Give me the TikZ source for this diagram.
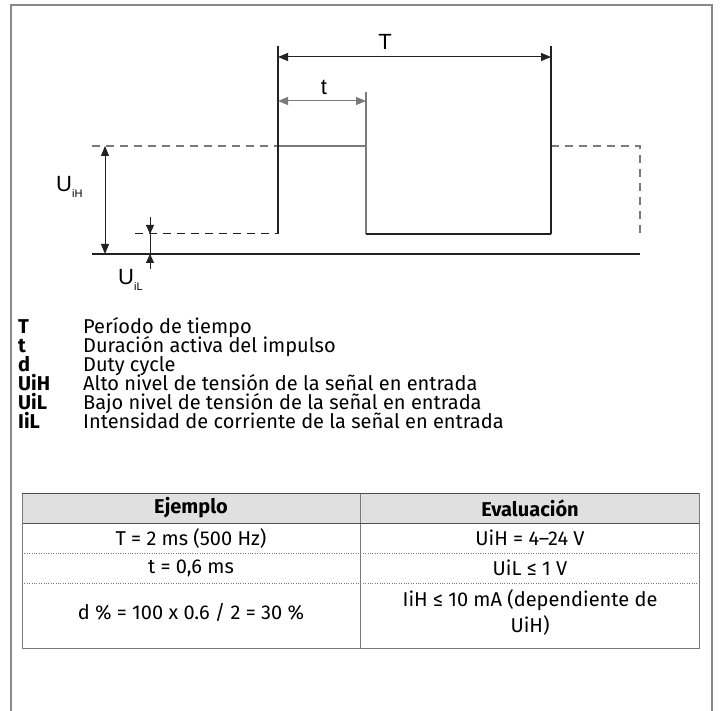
\documentclass[tikz,border=0pt]{standalone}
\usepackage{fontspec}
\setmainfont{Fira Sans}
\newfontfamily\diagfont{Liberation Sans}
\usetikzlibrary{arrows.meta}
\definecolor{frameC}{HTML}{888888}
\definecolor{lineK}{HTML}{222222}
\definecolor{lineG}{HTML}{7A7A7A}
\definecolor{headC}{HTML}{E0E0E0}
\tikzset{
  sig/.style={draw=lineK, line width=1.1pt},
  sigg/.style={draw=lineG, line width=1.1pt},
  dashg/.style={draw=lineG, line width=1.1pt, dash pattern=on 8pt off 6pt},
  dashk/.style={draw=lineK, line width=1pt, dash pattern=on 8pt off 6pt},
  dimarr/.style={line width=1pt, {Triangle[length=10pt,width=8pt]}-{Triangle[length=10pt,width=8pt]}},
  onearr/.style={line width=1pt, -{Triangle[length=9pt,width=8pt]}},
  lab/.style={font=\diagfont\fontsize{22}{24}\selectfont, inner sep=0pt},
  leg/.style={anchor=base west, inner sep=0pt, font=\fontsize{20}{22}\selectfont},
  legb/.style={anchor=base west, inner sep=0pt, font=\fontsize{20}{22}\selectfont\bfseries},
  cell/.style={inner sep=0pt, font=\fontsize{20}{26}\selectfont, align=center},
}
\begin{document}
\begin{tikzpicture}[x=1pt,y=-1pt]
\useasboundingbox (0,0) rectangle (720,711);
% frame
\coordinate (f1) at (11,711); \coordinate (f2) at (11,5);
\coordinate (f3) at (712,5); \coordinate (f4) at (712,711);
\draw[draw=frameC, line width=1.4pt] (f1) -- (f2) -- (f3) -- (f4);

% signal coordinates
\coordinate (LTop) at (278,46);
\coordinate (LHi) at (278,146);
\coordinate (LLo) at (278,234);
\coordinate (MTop) at (366,92);
\coordinate (MHi) at (366,146);
\coordinate (MLo) at (366,234);
\coordinate (RTop) at (551,46);
\coordinate (RHi) at (551,146);
\coordinate (RLo) at (551,234);
\coordinate (DHiL) at (92,146);
\coordinate (DLoL) at (135,234);
\coordinate (DHiR) at (640,146);
\coordinate (DLoR) at (640,234);
\coordinate (BL) at (92,254);
\coordinate (BR) at (640,254);

% dashed continuations
\draw[dashg] (DHiL) -- (LHi);
\draw[dashg] (RHi) -- (DHiR) -- (DLoR);
\draw[dashk] (DLoL) -- (LLo);
% pulse
\draw[sigg] (LHi) -- (MHi);
\draw[sigg] (MTop) -- (MLo);
\draw[sig] (LTop) -- (LLo);
\draw[sig] (MLo) -- (RLo);
\draw[sig] (RTop) -- (RLo);
% baseline
\draw[sig] (BL) -- (BR);

% T dimension
\coordinate (Ta) at (278,57); \coordinate (Tb) at (551,57);
\draw[dimarr, draw=lineK, fill=lineK] (Ta) -- (Tb);
\node[lab] (Tlab) at (385,42) {T};
% t dimension
\coordinate (ta) at (278,101); \coordinate (tb) at (366,101);
\draw[dimarr, draw=lineG, fill=lineK] (ta) -- (tb);
\node[lab] (tlab) at (324,87) {t};
% UiH
\coordinate (Ha) at (105,146); \coordinate (Hb) at (105,254);
\draw[dimarr, draw=lineK, fill=lineK] (Ha) -- (Hb);
\node[lab, anchor=base west] (UiH) at (56,192) {U\raisebox{-0.45ex}{\fontsize{11}{12}\selectfont iH}};
% UiL
\coordinate (La) at (150,217); \coordinate (Lm) at (150,234);
\coordinate (Lb) at (150,269); \coordinate (Ln) at (150,254);
\draw[draw=lineK, line width=1pt] (La) -- (Lb);
\draw[onearr, draw=lineK, fill=lineK] (La) -- (Lm);
\draw[onearr, draw=lineK, fill=lineK] (Lb) -- (Ln);
\node[lab, anchor=base west] (UiL) at (118,285) {U\raisebox{-0.45ex}{\fontsize{11}{12}\selectfont iL}};

% legend
\node[legb] (k1) at (18,333) {T};
\node[leg]  (d1) at (83,333) {Período de tiempo};
\node[legb] (k2) at (18,352) {t};
\node[leg]  (d2) at (83,352) {Duración activa del impulso};
\node[legb] (k3) at (18,371) {d};
\node[leg]  (d3) at (83,371) {Duty cycle};
\node[legb] (k4) at (18,390) {UiH};
\node[leg]  (d4) at (83,390) {Alto nivel de tensión de la señal en entrada};
\node[legb] (k5) at (18,409) {UiL};
\node[leg]  (d5) at (83,409) {Bajo nivel de tensión de la señal en entrada};
\node[legb] (k6) at (18,428) {IiL};
\node[leg]  (d6) at (83,428) {Intensidad de corriente de la señal en entrada};

% table
\fill[headC] (22,493) rectangle (699,523);
\draw[draw=lineG, line width=0.4pt, dotted] (22,553) -- (699,553);
\draw[draw=lineG, line width=0.4pt, dotted] (22,583) -- (699,583);
\draw[draw=lineG, line width=1pt] (360,493) -- (360,648);
\draw[draw=lineK!80, line width=1pt] (22,523) -- (699,523);
\draw[draw=lineG, line width=1pt] (22,493) rectangle (699,648);
\draw[draw=lineK!80, line width=1pt] (22,493) -- (699,493);

\node[cell, font=\fontsize{20}{26}\selectfont\bfseries] (h1) at (191,508) {Ejemplo};
\node[cell, font=\fontsize{20}{26}\selectfont\bfseries] (h2) at (530,508) {Evaluación};
\node[cell] (c11) at (191,538) {T = 2 ms (500 Hz)};
\node[cell] (c12) at (530,538) {UiH = 4–24 V};
\node[cell] (c21) at (191,568) {t = 0,6 ms};
\node[cell] (c22) at (530,568) {UiL ≤ 1 V};
\node[cell] (c31) at (191,612) {d \% = 100 x 0.6 / 2 = 30 \%};
\node[cell] (c32) at (530,612) {IiH ≤ 10 mA (dependiente de\\UiH)};
\end{tikzpicture}
\end{document}
